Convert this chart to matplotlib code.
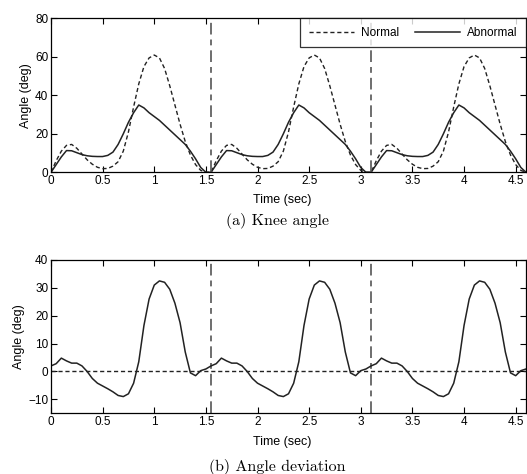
import numpy as np
import matplotlib
matplotlib.use('Agg')
import matplotlib.pyplot as plt

plt.rcParams['font.family'] = ['Liberation Sans', 'DejaVu Sans']

# One gait cycle (time within cycle, sec); the figure repeats it 3 times
cycle_t = [0.00, 0.05, 0.10, 0.15, 0.20, 0.25, 0.30, 0.35, 0.40, 0.45,
           0.50, 0.55, 0.60, 0.65, 0.70, 0.75, 0.80, 0.85, 0.90, 0.95,
           1.00, 1.05, 1.10, 1.15, 1.20, 1.25, 1.30, 1.35, 1.40, 1.45, 1.50]
cycle_starts = [0.0, 1.55, 3.10]

# Knee angle (deg)
normal = [0, 6, 11, 14, 14.5, 12.5, 9.5, 6.5, 4.2, 2.6,
          1.9, 2.0, 3.2, 5.5, 11, 21, 34, 46, 55, 59.5,
          61, 59.5, 54, 45, 35, 25, 16, 9, 4, 1, 0]
abnormal = [0, 4, 8, 11.3, 11.2, 10.2, 9.2, 8.6, 8.3, 8.2,
            8.2, 8.8, 10.5, 14.5, 20, 26, 31, 35, 33.5, 31,
            29, 27, 24.5, 22, 19.5, 17, 14.5, 11, 7, 2.5, 0]

# Angle deviation (deg)
deviation = [2.0, 2.8, 4.8, 3.8, 3.0, 3.0, 2.0, 0.0, -2.5, -4.2,
             -5.2, -6.2, -7.3, -8.6, -9.0, -8.0, -4.2, 3.5, 16.5, 26,
             31, 32.5, 32, 29.5, 24.5, 17.5, 7.0, -0.5, -1.5, 0.3, 0.9]

cycle_marks = [1.545, 3.10]

t = np.concatenate([np.array(cycle_t) + s for s in cycle_starts])
n_cyc = len(cycle_starts)
normal_all = np.tile(normal, n_cyc)
abnormal_all = np.tile(abnormal, n_cyc)
deviation_all = np.tile(deviation, n_cyc)

fig = plt.figure(figsize=(5.27, 4.74), dpi=100)
ax1 = fig.add_axes([51/527, 1-172.3/474, 475/527, (172.3-18.5)/474])
ax2 = fig.add_axes([51/527, 1-413.3/474, 475/527, (413.3-260)/474])

line_col = '#222222'
ax1.plot(t, normal_all, color=line_col, lw=1.0, dashes=(3, 2), label='Normal')
ax1.plot(t, abnormal_all, color=line_col, lw=1.1, label='Abnormal')
for xm in cycle_marks:
    ax1.axvline(xm, color='#555555', lw=1.2, dashes=(7, 3, 3.5, 3))
    ax2.axvline(xm, color='#555555', lw=1.2, dashes=(7, 3, 3.5, 3))

ax2.plot(t, deviation_all, color=line_col, lw=1.1)
ax2.axhline(0, color='#222222', lw=1.0, dashes=(3, 2))

ax1.set_xlim(0, 4.6)
ax1.set_ylim(0, 80)
ax1.set_yticks([0, 20, 40, 60, 80])
ax2.set_xlim(0, 4.6)
ax2.set_ylim(-15, 40)
ax2.set_yticks([-10, 0, 10, 20, 30, 40])

for ax in (ax1, ax2):
    ax.set_xticks([0, 0.5, 1, 1.5, 2, 2.5, 3, 3.5, 4, 4.5])
    ax.set_xticklabels(['0', '0.5', '1', '1.5', '2', '2.5', '3', '3.5', '4', '4.5'])
    ax.tick_params(direction='in', top=True, right=True, labelsize=8.5,
                   length=4, width=0.8, pad=2)
    for sp in ax.spines.values():
        sp.set_linewidth(0.9)
    ax.set_ylabel('Angle (deg)', fontsize=9, labelpad=2)
    ax.set_xlabel('Time (sec)', fontsize=9)
ax1.xaxis.set_label_coords(0.487, -0.14)
ax2.xaxis.set_label_coords(0.487, -0.15)

leg = ax1.legend(loc='upper right', ncol=2, fontsize=8.5, frameon=True,
                 fancybox=False, edgecolor='black', borderaxespad=0,
                 handlelength=3.8, columnspacing=1.4, handletextpad=0.6,
                 borderpad=0.7)
leg.get_frame().set_linewidth(0.9)

fig.text(277/527, 1-221/474, '(a) Knee angle', family='cmr10',
         fontsize=11.5, ha='center', va='center')
fig.text(277/527, 1-467/474, '(b) Angle deviation', family='cmr10',
         fontsize=11.5, ha='center', va='center')

fig.savefig('out.png', dpi=100)
